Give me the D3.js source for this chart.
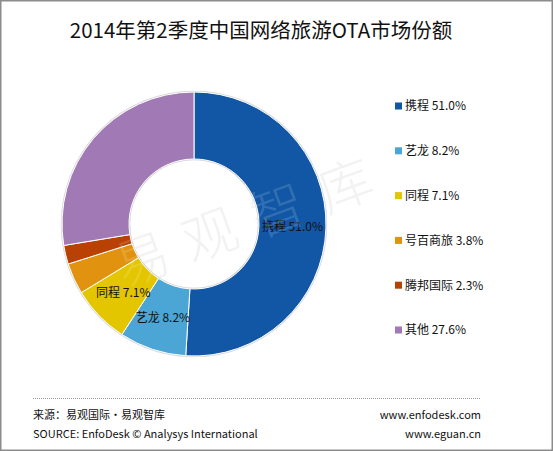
<!DOCTYPE html>
<html>
<head>
<meta charset="utf-8">
<script src="https://cdn.jsdelivr.net/npm/d3@7/dist/d3.min.js"></script>
<style>
  body { margin: 0; background: #fff; }
  svg text { font-family: "Noto Sans CJK SC", "Noto Sans", sans-serif; fill: #111; }
</style>
</head>
<body>
<div id="chart_container"></div>
<script>
// data
var names = ["携程", "艺龙", "同程", "号百商旅", "腾邦国际", "其他"];
var shares = [51.0, 8.2, 7.1, 3.8, 2.3, 27.6];
var colors = ["#1157a6", "#4ba6d6", "#e3c500", "#e1930f", "#b94104", "#a17ab5"];
var labelled = ["携程", "艺龙", "同程"];
var watermark = "易观智库";

var width = 553, height = 451;
var cx = 194, cy = 224;
var outerR = 132, innerR = 65;

var svg = d3.select("#chart_container").append("svg")
    .attr("width", width)
    .attr("height", height);

// frame
svg.append("rect")
    .attr("x", 0.75).attr("y", 0.75)
    .attr("width", width - 1.5).attr("height", height - 1.5)
    .attr("fill", "#fff")
    .attr("stroke", "#8c8c8c")
    .attr("stroke-width", 1.5);

svg.append("text")
    .attr("x", 261).attr("y", 38)
    .attr("text-anchor", "middle")
    .style("font-size", "20.5px")
    .text("2014年第2季度中国网络旅游OTA市场份额");

function drawWatermark(fill, opacity) {
    svg.append("text")
        .attr("transform", "translate(254,224) rotate(-20)")
        .attr("text-anchor", "middle")
        .attr("dominant-baseline", "middle")
        .style("font-size", "54px")
        .style("font-weight", 300)
        .style("fill", fill)
        .style("fill-opacity", opacity)
        .style("letter-spacing", "18px")
        .text(watermark);
}

// watermark on the white ground
drawWatermark("#000", 0.06);

var pie = d3.pie().sort(null).value(function(d) { return d; });
var arc = d3.arc().innerRadius(innerR).outerRadius(outerR);
var labelArc = d3.arc().innerRadius((innerR + outerR) / 2).outerRadius((innerR + outerR) / 2);

var donut = svg.append("g")
    .attr("transform", "translate(" + cx + "," + cy + ")");

// soft shadow ring
donut.append("circle").attr("r", outerR + 0.5)
    .attr("fill", "none").attr("stroke", "#d8d8d8").attr("stroke-width", 1.5);
donut.append("circle").attr("r", innerR - 0.5)
    .attr("fill", "none").attr("stroke", "#cfcfcf").attr("stroke-width", 1.5);

var arcs = pie(shares);

donut.selectAll("path")
    .data(arcs)
    .enter().append("path")
    .attr("d", arc)
    .attr("fill", function(d, i) { return colors[i]; })
    .attr("stroke", "#fff")
    .attr("stroke-width", 1);

// watermark over the slices
drawWatermark("#fff", 0.14);

donut.selectAll("text.lbl")
    .data(arcs.filter(function(d, i) { return labelled.indexOf(names[i]) >= 0; }))
    .enter().append("text")
    .attr("class", "lbl")
    .attr("transform", function(d) { return "translate(" + labelArc.centroid(d) + ")"; })
    .attr("text-anchor", "middle")
    .attr("dy", "0.35em")
    .style("font-size", "12px")
    .text(function(d) { return names[d.index] + " " + shares[d.index].toFixed(1) + "%"; });

// legend
var legendY = d3.scalePoint().domain(names).range([106, 330]);
var legend = svg.append("g");
var rows = legend.selectAll("g")
    .data(names)
    .enter().append("g")
    .attr("transform", function(d) { return "translate(395," + legendY(d) + ")"; });
rows.append("rect")
    .attr("x", 0).attr("y", -3.5)
    .attr("width", 7).attr("height", 7)
    .attr("fill", function(d, i) { return colors[i]; });
rows.append("text")
    .attr("x", 10).attr("dy", "0.36em")
    .style("font-size", "12px")
    .text(function(d, i) { return d + " " + shares[i].toFixed(1) + "%"; });

// footer
svg.append("line")
    .attr("x1", 33).attr("x2", 480)
    .attr("y1", 398.5).attr("y2", 398.5)
    .attr("stroke", "#9a9a9a")
    .attr("stroke-dasharray", "1,1");

svg.append("text").attr("x", 33).attr("y", 419)
    .style("font-size", "11px").text("来源：易观国际·易观智库");
svg.append("text").attr("x", 33).attr("y", 438)
    .style("font-size", "11px").text("SOURCE: EnfoDesk © Analysys International");
svg.append("text").attr("x", 481).attr("y", 419).attr("text-anchor", "end")
    .style("font-size", "11px").text("www.enfodesk.com");
svg.append("text").attr("x", 481).attr("y", 438).attr("text-anchor", "end")
    .style("font-size", "11px").text("www.eguan.cn");
</script>
</body>
</html>
